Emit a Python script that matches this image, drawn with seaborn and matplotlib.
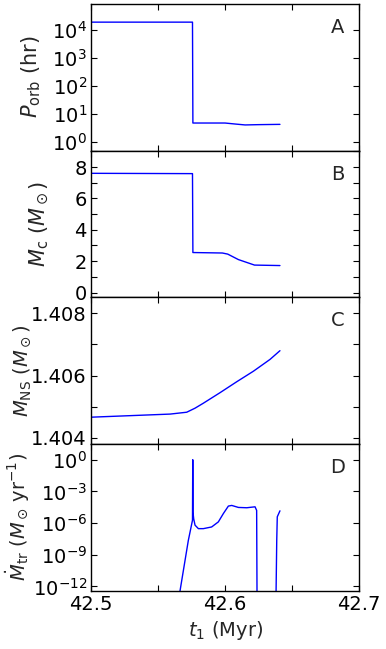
import numpy as np
import pandas as pd
import matplotlib
matplotlib.use("Agg")
import matplotlib.pyplot as plt
import matplotlib.ticker as mticker
import seaborn as sns

# ---- data ----
t_porb = [42.50, 42.5757, 42.5760, 42.600, 42.608, 42.615, 42.625, 42.641]
porb = [1.9e4, 1.9e4, 4.8, 4.8, 4.4, 4.1, 4.2, 4.3]

t_mc = [42.50, 42.5757, 42.5760, 42.598, 42.602, 42.610, 42.622, 42.641]
mc = [7.6, 7.58, 2.55, 2.52, 2.45, 2.1, 1.75, 1.72]

t_mns = [42.50, 42.559, 42.5714, 42.5776, 42.5838, 42.5963, 42.6087,
         42.6212, 42.6336, 42.641]
mns = [1.40466, 1.40476, 1.40482, 1.40495, 1.40511, 1.40545, 1.40580,
       1.40614, 1.40652, 1.40680]

t_mdot = [42.5650, 42.5726, 42.5757, 42.5759, 42.5761, 42.5766, 42.5776,
          42.5801, 42.5838, 42.5900, 42.5950, 42.5988, 42.6025, 42.6050,
          42.6100, 42.6162, 42.6224, 42.6236, 42.6239,
          42.6380, 42.6386, 42.6390, 42.6410]
mdot = [10**-13.5, 10**-7.64, 10**-5.73, 1.0, 10**-5.0, 10**-5.6, 10**-6.2,
        10**-6.53, 10**-6.53, 10**-6.37, 10**-5.89, 10**-5.09, 10**-4.39, 10**-4.33,
        10**-4.52, 10**-4.55, 10**-4.46, 10**-4.8, 10**-13.5,
        10**-13.5, 10**-7.64, 10**-5.41, 10**-4.84]

panel_letters = ["A", "B", "C", "D"]
y_labels = [r"$P_{\rm orb}$ (hr)", r"$M_{\rm c}$ ($M_\odot$)",
            r"$M_{\rm NS}$ ($M_\odot$)", r"$\dot M_{\rm tr}$ ($M_\odot\,{\rm yr}^{-1}$)"]
label_x = [-0.18, -0.15, -0.218, -0.222]
label_size = [15, 15, 14, 14]

sns.set_style("ticks")
plt.rcParams["font.family"] = ["DejaVu Sans"]
plt.rcParams["mathtext.fontset"] = "dejavusans"
plt.rcParams["font.size"] = 14

fig, axes = plt.subplots(4, 1, figsize=(3.86, 6.49), dpi=100, sharex=True)
fig.subplots_adjust(left=0.236, right=0.930, top=0.994, bottom=0.090, hspace=0)

series = [(t_porb, porb), (t_mc, mc), (t_mns, mns), (t_mdot, mdot)]
for ax, (t, v), letter, yl, lx, ls in zip(axes, series, panel_letters,
                                          y_labels, label_x, label_size):
    df = pd.DataFrame({"t": t, "v": v})
    sns.lineplot(data=df, x="t", y="v", ax=ax, color="blue", lw=1.0,
                 estimator=None, sort=False)
    ax.set_xlabel("")
    ax.set_ylabel(yl, fontsize=ls)
    ax.yaxis.set_label_coords(lx, 0.5)
    for s in ax.spines.values():
        s.set_linewidth(1.0)
        s.set_color("black")
    ax.tick_params(which="both", direction="in", top=True, right=True,
                   labelsize=14, colors="black", width=0.8, pad=3)
    ax.tick_params(which="major", length=4)
    ax.tick_params(which="minor", length=4)
    ax.text(0.92, 0.84, letter, transform=ax.transAxes, ha="center",
            va="center", fontsize=14)

ax = axes[0]
ax.set_yscale("log")
ax.set_ylim(0.5, 8.5e4)
ax.yaxis.set_major_locator(mticker.LogLocator(base=10, numticks=10))
ax.yaxis.set_minor_locator(mticker.NullLocator())

ax = axes[1]
ax.set_ylim(-0.3, 9.05)
ax.yaxis.set_major_locator(mticker.MultipleLocator(2))
ax.yaxis.set_minor_locator(mticker.MultipleLocator(1))

ax = axes[2]
ax.set_ylim(1.4038, 1.40852)
ax.yaxis.set_major_locator(mticker.MultipleLocator(0.002))
ax.yaxis.set_minor_locator(mticker.MultipleLocator(0.001))
ax.yaxis.set_major_formatter(mticker.FormatStrFormatter("%.3f"))

ax = axes[3]
ax.set_yscale("log")
ax.set_ylim(10**-12.4, 10**1.5)
ax.yaxis.set_major_locator(mticker.FixedLocator([1e-12, 1e-9, 1e-6, 1e-3, 1e0]))
ax.yaxis.set_minor_locator(mticker.NullLocator())
ax.set_xlim(42.5, 42.7)
ax.xaxis.set_major_locator(mticker.MultipleLocator(0.1))
ax.xaxis.set_minor_locator(mticker.MultipleLocator(0.05))
ax.xaxis.set_major_formatter(mticker.FormatStrFormatter("%.1f"))
ax.set_xlabel(r"$t_1$ (Myr)")

fig.savefig("out.png", dpi=100)
